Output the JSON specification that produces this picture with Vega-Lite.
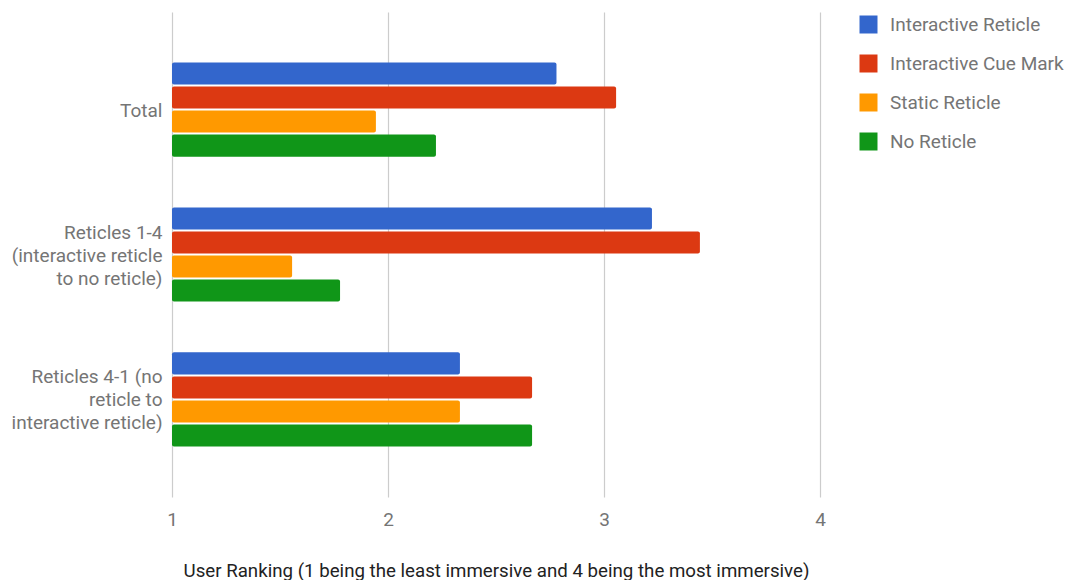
{
  "$schema": "https://vega.github.io/schema/vega-lite/v6.json",
  "autosize": {"type": "none"},
  "padding": {"left": 172, "top": 12, "right": 252, "bottom": 83},
  "width": 648,
  "height": 485,
  "config": {
    "font": "Roboto",
    "view": {"stroke": null},
    "axis": {"labelFont": "Roboto", "titleFont": "Roboto"}
  },
  "data": {
    "values": [
      {"group": "Total", "series": "Interactive Reticle", "value": 2.78},
      {"group": "Total", "series": "Interactive Cue Mark", "value": 3.056},
      {"group": "Total", "series": "Static Reticle", "value": 1.944},
      {"group": "Total", "series": "No Reticle", "value": 2.222},
      {"group": "Reticles 1-4|(interactive reticle|to no reticle)", "series": "Interactive Reticle", "value": 3.222},
      {"group": "Reticles 1-4|(interactive reticle|to no reticle)", "series": "Interactive Cue Mark", "value": 3.444},
      {"group": "Reticles 1-4|(interactive reticle|to no reticle)", "series": "Static Reticle", "value": 1.556},
      {"group": "Reticles 1-4|(interactive reticle|to no reticle)", "series": "No Reticle", "value": 1.778},
      {"group": "Reticles 4-1 (no|reticle to|interactive reticle)", "series": "Interactive Reticle", "value": 2.333},
      {"group": "Reticles 4-1 (no|reticle to|interactive reticle)", "series": "Interactive Cue Mark", "value": 2.667},
      {"group": "Reticles 4-1 (no|reticle to|interactive reticle)", "series": "Static Reticle", "value": 2.333},
      {"group": "Reticles 4-1 (no|reticle to|interactive reticle)", "series": "No Reticle", "value": 2.667}
    ]
  },
  "mark": {"type": "bar", "cornerRadius": 2},
  "encoding": {
    "y": {
      "field": "group",
      "type": "nominal",
      "sort": null,
      "scale": {"paddingInner": 0.35, "paddingOuter": 0.3475},
      "axis": {
        "title": null,
        "domain": false,
        "ticks": false,
        "labelExpr": "split(datum.label, '|')",
        "labelFontSize": 19,
        "labelColor": "#757575",
        "labelLineHeight": 23,
        "labelPadding": 10,
        "labelLimit": 300,
        "labelOffset": {"condition": {"test": "datum.value === 'Total'", "value": 1}, "value": -22}
      }
    },
    "yOffset": {
      "field": "series",
      "type": "nominal",
      "sort": ["Interactive Reticle", "Interactive Cue Mark", "Static Reticle", "No Reticle"],
      "scale": {"paddingInner": 0.08, "paddingOuter": 0}
    },
    "x": {
      "field": "value",
      "type": "quantitative",
      "scale": {"domain": [1, 4], "zero": false, "nice": false},
      "axis": {
        "values": [1, 2, 3, 4],
        "title": "User Ranking (1 being the least immersive and 4 being the most immersive)",
        "titleFontSize": 18.7,
        "titleFontWeight": "normal",
        "titleColor": "#222222",
        "titlePadding": 32,
        "labelFontSize": 19,
        "labelColor": "#757575",
        "labelPadding": 13,
        "labelFlush": false,
        "domain": false,
        "ticks": false,
        "gridColor": "#cccccc",
        "gridWidth": 1.2
      }
    },
    "x2": {"datum": 1},
    "color": {
      "field": "series",
      "type": "nominal",
      "sort": ["Interactive Reticle", "Interactive Cue Mark", "Static Reticle", "No Reticle"],
      "scale": {
        "domain": ["Interactive Reticle", "Interactive Cue Mark", "Static Reticle", "No Reticle"],
        "range": ["#3366cc", "#dc3912", "#ff9900", "#109618"]
      },
      "legend": {
        "title": null,
        "orient": "none",
        "legendX": 687,
        "legendY": 3,
        "padding": 0,
        "symbolType": "square",
        "symbolSize": 324,
        "symbolStrokeWidth": 0,
        "symbolOpacity": 1,
        "labelFontSize": 19,
        "labelColor": "#757575",
        "labelOffset": 12,
        "rowPadding": 19,
        "labelLimit": 300
      }
    }
  }
}
